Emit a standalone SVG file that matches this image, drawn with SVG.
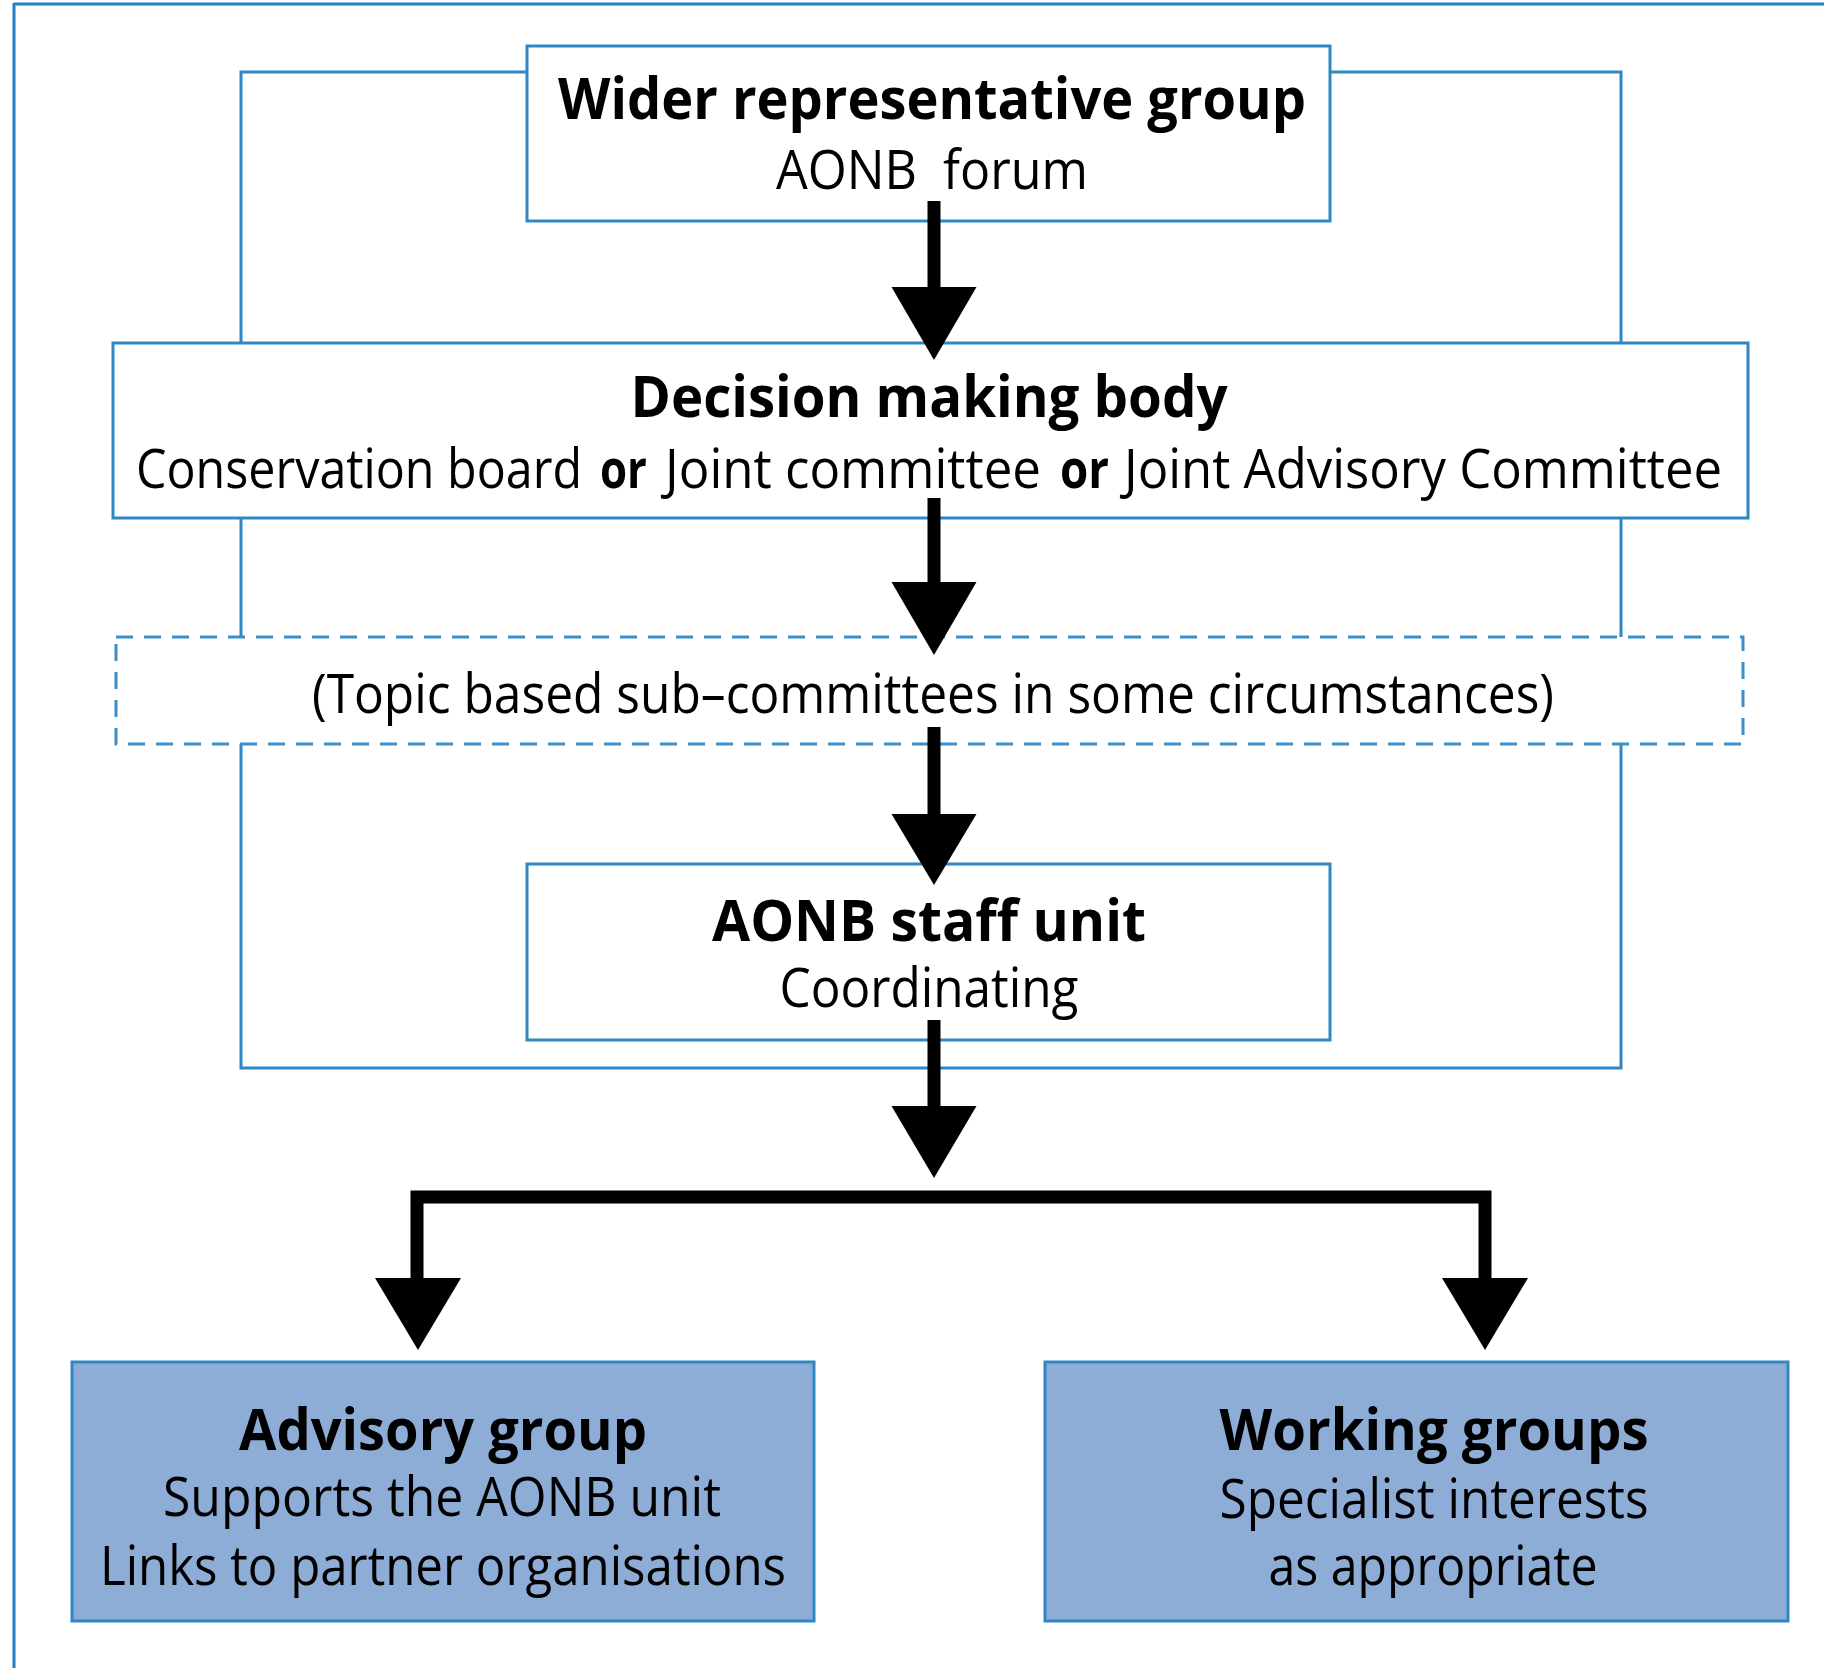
<svg xmlns="http://www.w3.org/2000/svg" width="1824" height="1668" viewBox="0 0 1824 1668">
<style>
.frame{fill:none;stroke:#1f7fc0;stroke-width:3}
.outer{fill:none;stroke:#2f87c4;stroke-width:3}
.box{fill:#ffffff;stroke:#2f87c4;stroke-width:3}
.fbox{fill:#8eadd6;stroke:#2f87c4;stroke-width:3}
.dash{fill:#ffffff;stroke:#3a8fc9;stroke-width:3;stroke-dasharray:17 11}
.t{font-family:"Open Sans","Noto Sans",sans-serif;fill:#000;text-anchor:middle}
.s{font-family:"Open Sans","Noto Sans",sans-serif;fill:#000;text-anchor:start}
.b{font-weight:700;font-size:58px}
.r{font-weight:400;font-size:54px}
.rb{font-weight:700;font-size:54px}
.shaft{stroke:#000;stroke-width:13;fill:none;stroke-linejoin:miter}
.head{fill:#000}
</style>
<rect width="1824" height="1668" fill="#ffffff"/>
<g id="frame">
<line class="frame" x1="14" y1="4" x2="1824" y2="4"/>
<line class="frame" x1="14" y1="3" x2="14" y2="1668"/>
</g>
<g id="outer-group">
<rect class="outer" x="241" y="72" width="1380" height="996"/>
</g>
<g id="wider">
<rect class="box" x="527" y="46" width="803" height="175"/>
<text class="t b" x="932" y="119" textLength="748" lengthAdjust="spacingAndGlyphs">Wider representative group</text>
<text class="t r" x="932" y="189" textLength="312" lengthAdjust="spacingAndGlyphs" xml:space="preserve">AONB  forum</text>
</g>
<g id="decision">
<rect class="box" x="113" y="343" width="1635" height="175"/>
<text class="t b" x="929" y="417" textLength="597" lengthAdjust="spacingAndGlyphs">Decision making body</text>
<text class="s r" x="136" y="488" textLength="446" lengthAdjust="spacingAndGlyphs">Conservation board</text>
<text class="s rb" x="600" y="488" textLength="47" lengthAdjust="spacingAndGlyphs">or</text>
<text class="s r" x="665" y="488" textLength="376" lengthAdjust="spacingAndGlyphs">Joint committee</text>
<text class="s rb" x="1060" y="488" textLength="49" lengthAdjust="spacingAndGlyphs">or</text>
<text class="s r" x="1124" y="488" textLength="598" lengthAdjust="spacingAndGlyphs">Joint Advisory Committee</text>
</g>
<g id="subcommittees">
<rect class="dash" x="116" y="637" width="1627" height="107"/>
<text class="t r" x="933" y="713" textLength="1242" lengthAdjust="spacingAndGlyphs">(Topic based sub–committees in some circumstances)</text>
</g>
<g id="staff">
<rect class="box" x="527" y="864" width="803" height="176"/>
<text class="t b" x="929" y="941" textLength="434" lengthAdjust="spacingAndGlyphs">AONB staff unit</text>
<text class="t r" x="929" y="1007" textLength="299" lengthAdjust="spacingAndGlyphs">Coordinating</text>
</g>
<g id="advisory">
<rect class="fbox" x="72" y="1362" width="742" height="259"/>
<text class="t b" x="443" y="1450" textLength="408" lengthAdjust="spacingAndGlyphs">Advisory group</text>
<text class="t r" x="442" y="1516" textLength="558" lengthAdjust="spacingAndGlyphs">Supports the AONB unit</text>
<text class="t r" x="443" y="1585" textLength="686" lengthAdjust="spacingAndGlyphs">Links to partner organisations</text>
</g>
<g id="working">
<rect class="fbox" x="1045" y="1362" width="743" height="259"/>
<text class="t b" x="1434" y="1450" textLength="429" lengthAdjust="spacingAndGlyphs">Working groups</text>
<text class="t r" x="1434" y="1518" textLength="429" lengthAdjust="spacingAndGlyphs">Specialist interests</text>
<text class="t r" x="1433" y="1585" textLength="329" lengthAdjust="spacingAndGlyphs">as appropriate</text>
</g>
<g id="connectors">
<line class="shaft" x1="934" y1="201" x2="934" y2="292"/>
<polygon class="head" points="891.5,287 976.5,287 934,360"/>
<line class="shaft" x1="934" y1="498" x2="934" y2="587"/>
<polygon class="head" points="891.5,582 976.5,582 934,655"/>
<line class="shaft" x1="934" y1="727" x2="934" y2="819"/>
<polygon class="head" points="891.5,814 976.5,814 934,885"/>
<line class="shaft" x1="934" y1="1020" x2="934" y2="1111"/>
<polygon class="head" points="891.5,1106 976.5,1106 934,1178"/>
<path class="shaft" d="M417,1283 V1197 H1485 V1283"/>
<polygon class="head" points="375,1278 461,1278 418,1350"/>
<polygon class="head" points="1442,1278 1528,1278 1485,1350"/>
</g>
</svg>
